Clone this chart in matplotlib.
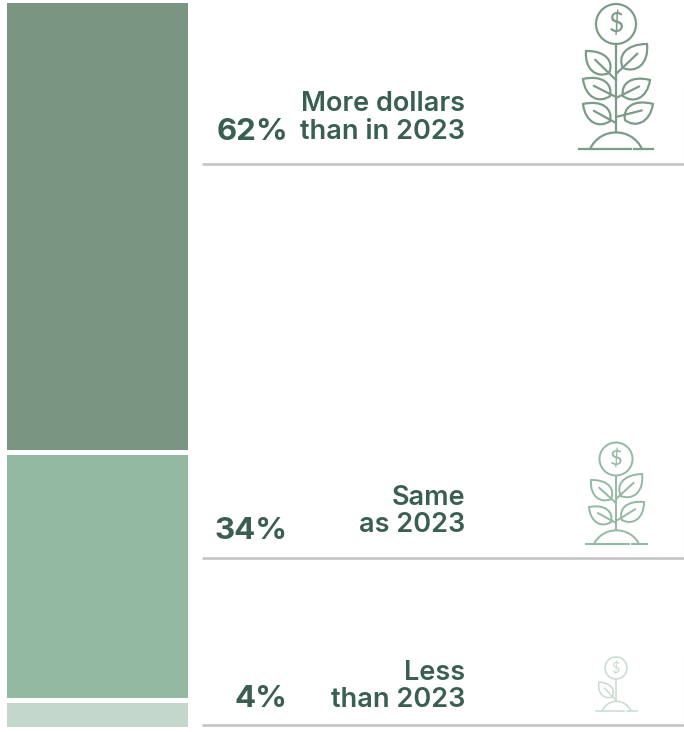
import matplotlib
matplotlib.use('Agg')
import matplotlib.pyplot as plt
from matplotlib.path import Path
from matplotlib.patches import PathPatch, Circle

plt.rcParams['font.family'] = ['Inter', 'DejaVu Sans']

# survey shares
values = [62, 34, 4]
pct_labels = ['62%', '34%', '4%']
answers = ['More dollars\nthan in 2023', 'Same\nas 2023', 'Less\nthan 2023']

bar_colors = ['#7a9683', '#93b9a2', '#c3d7cb']
icon_colors = ['#7b9c87', '#93b9a2', '#c9dbd0']
text_color = '#3a5f52'
W, H = 684, 732

fig = plt.figure(figsize=(W / 100, H / 100), dpi=100, facecolor='white')

# stacked column on the left, white edges make the gaps
ax = fig.add_axes([3.5 / W, 1 - 729 / H, 186 / W, 729 / H])
bottom = 100
for v, c in zip(values, bar_colors):
    bottom -= v
    ax.bar(0, v, bottom=bottom, width=1, color=c, edgecolor='white', linewidth=3.6)
ax.set_xlim(-0.5, 0.5)
ax.set_ylim(0, 100)
ax.axis('off')

# everything else is placed in pixels
ov = fig.add_axes([0, 0, 1, 1])
ov.set_xlim(0, W)
ov.set_ylim(H, 0)
ov.axis('off')
ov.patch.set_alpha(0)

rule_y = [164, 558, 725]
row_top = [90, 490, 655]
pct_y = [140, 539, 707]
ans_y = [118, 511.5, 686.5]


def leaf(tip, base, join, color, lw, side):
    # pointed at the tip, rounded towards the stem
    dx, dy = tip[0] - base[0], tip[1] - base[1]
    nx, ny = -dy * 0.36 * side, dx * 0.36 * side
    verts = [base,
             (base[0] + dx * 0.12 + nx * 1.0, base[1] + dy * 0.12 + ny * 1.0),
             (base[0] + dx * 0.55 + nx * 1.25, base[1] + dy * 0.55 + ny * 1.25),
             tip,
             (base[0] + dx * 0.62 - nx * 1.3, base[1] + dy * 0.62 - ny * 1.3),
             (base[0] + dx * 0.15 - nx * 1.05, base[1] + dy * 0.15 - ny * 1.05),
             base]
    codes = [Path.MOVETO] + [Path.CURVE4] * 6
    ov.add_patch(PathPatch(Path(verts, codes), fill=False, ec=color, lw=lw,
                           capstyle='round', joinstyle='miter'))
    # midrib
    ov.plot([join[0], base[0] + dx * 0.6], [join[1], base[1] + dy * 0.6],
            color=color, lw=lw, solid_capstyle='round')


def plant(cx, coin_y, r, stem_end, ground_y, ground, mound, leaves, color, lw):
    ov.add_patch(Circle((cx, coin_y), r, fill=False, ec=color, lw=lw))
    ov.text(cx, coin_y, '$', color=color, fontsize=r * 0.95, ha='center',
            va='center', family='Lato')
    ov.plot([cx, cx], [coin_y + r, stem_end], color=color, lw=lw)
    # ground line has a small break right of the centre
    gap = mound[1] - (mound[1] - mound[0]) * 0.2
    ov.plot([ground[0], gap - 1], [ground_y, ground_y], color=color, lw=lw)
    ov.plot([gap + 2, ground[1]], [ground_y, ground_y], color=color, lw=lw)
    h = ground_y - stem_end
    verts = [(mound[0], ground_y), (mound[0] + (mound[1] - mound[0]) * 0.2, ground_y - h * 1.3),
             (mound[0] + (mound[1] - mound[0]) * 0.8, ground_y - h * 1.3), (mound[1], ground_y)]
    ov.add_patch(PathPatch(Path(verts, [Path.MOVETO] + [Path.CURVE4] * 3), fill=False, ec=color, lw=lw))
    for tip, base, join, side in leaves:
        leaf(tip, base, join, color, lw, side)


plant(616, 24, 20, 132, 149, (579, 653), (590, 642),
      [((586, 51), (609, 73), (616, 80), 1),
       ((647, 44), (623, 68), (616, 74), -1),
       ((583, 79), (610, 96), (616, 97), 1),
       ((650, 80), (623, 96), (616, 98), -1),
       ((583, 104), (610, 121), (616, 123), 1),
       ((653, 104), (625, 120), (616, 117), -1)],
      icon_colors[0], 1.6)
plant(616, 459, 16.5, 530, 544, (586, 647), (594, 639),
      [((591, 480), (611, 499), (616, 503), 1),
       ((642, 474), (621, 496), (616, 499), -1),
       ((589, 507), (611, 522), (616, 523), 1),
       ((644, 502), (622, 520), (616, 521), -1)],
      icon_colors[1], 1.4)
plant(616, 668, 11, 701, 711, (596, 637), (602, 631),
      [((599, 682), (612, 697), (616, 700), 1)],
      icon_colors[2], 1.1)

for i in range(3):
    ov.plot([202, 684], [rule_y[i], rule_y[i]], color='#c4c4c4', lw=1.9, solid_capstyle='butt')
    ov.plot([683.5, 683.5], [row_top[i], rule_y[i]], color='#e8e8e8', lw=0.8)
    ov.text(288, pct_y[i], pct_labels[i], color=text_color, fontsize=22.5, fontweight='bold',
            ha='right', va='baseline')
    ov.text(465, ans_y[i], answers[i], color=text_color, fontsize=19.5, fontweight='semibold',
            ha='right', va='center', linespacing=1.08)

fig.savefig('out.png', dpi=100)
